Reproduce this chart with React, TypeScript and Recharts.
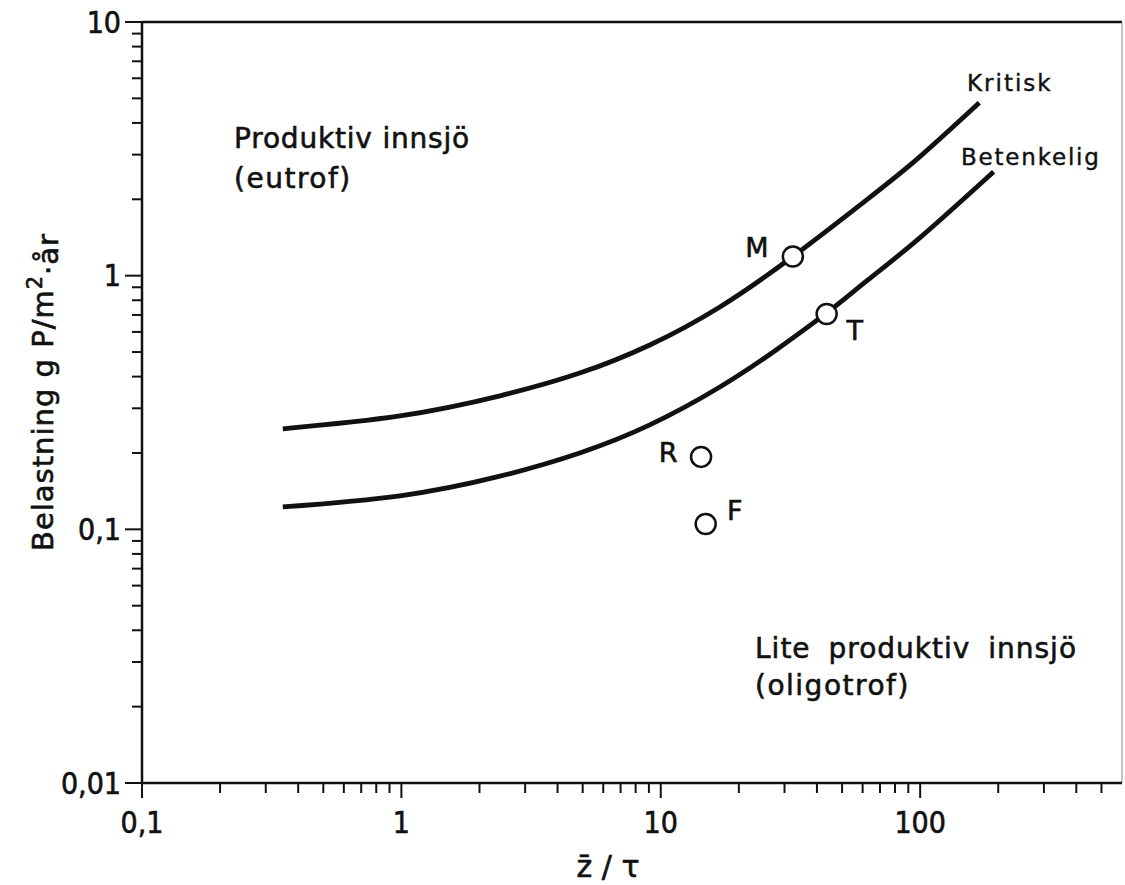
import { ComposedChart, Line, Scatter, XAxis, YAxis, ReferenceLine } from "recharts";

// curves (z/tau, load g P per m2 and year)
const kritiskX = [0.349, 0.987, 2.4, 4.87, 9.07, 16.9, 32.3, 62.2, 99.6, 169];
const kritiskY = [0.249, 0.28, 0.336, 0.413, 0.533, 0.753, 1.19, 1.99, 2.94, 4.8];
const betenkeligX = [0.349, 0.987, 2.4, 4.87, 9.07, 16.9, 27.5, 43.6, 62.2, 99.6, 192];
const betenkeligY = [0.1225, 0.1355, 0.162, 0.2, 0.258, 0.364, 0.505, 0.713, 0.953, 1.41, 2.57];

// lakes
const lakeNames = ["M", "T", "R", "F"];
const lakeX = [32.3, 43.6, 14.3, 14.9];
const lakeY = [1.19, 0.706, 0.193, 0.105];

const xTicks = [
  0.1, 0.2, 0.3, 0.4, 0.5, 0.6, 0.7, 0.8, 0.9,
  1, 2, 3, 4, 5, 6, 7, 8, 9,
  10, 20, 30, 40, 50, 60, 70, 80, 90,
  100, 200, 300, 400, 500,
];
const xMajor = [0.1, 1, 10, 100];
const xMajorLabels = ["0,1", "1", "10", "100"];

const yTicks = [
  0.01, 0.02, 0.03, 0.04, 0.05, 0.06, 0.07, 0.08, 0.09,
  0.1, 0.2, 0.3, 0.4, 0.5, 0.6, 0.7, 0.8, 0.9,
  1, 2, 3, 4, 5, 6, 7, 8, 9,
  10,
];
const yMajor = [0.01, 0.1, 1, 10];
const yMajorLabels = ["0,01", "0,1", "1", "10"];

const kritisk = kritiskX.map((x, i) => ({ x, y: kritiskY[i] }));
const betenkelig = betenkeligX.map((x, i) => ({ x, y: betenkeligY[i] }));
const lakes = lakeNames.map((name, i) => ({ name, x: lakeX[i], y: lakeY[i] }));

const NARROW = "'DejaVu Sans Condensed', 'Liberation Sans Narrow', 'DejaVu Sans', sans-serif";
const FONT = "'DejaVu Sans', 'Noto Sans', sans-serif";
const INK = "#111";

// heavier lettering like the printed original
const ink = { fill: INK, stroke: INK, strokeWidth: 0.6 };

// where each lake letter sits relative to its circle
const labelOffset: Record<string, [number, number]> = {
  M: [-36, -9],
  T: [28, 16],
  R: [-33, -5],
  F: [29, -14],
};

function XTick(props: any) {
  const { x, y, payload } = props;
  const idx = xMajor.indexOf(payload.value);
  const major = idx >= 0;
  return (
    <g>
      <line x1={x} y1={y} x2={x} y2={y + (major ? 15 : 10)} stroke={INK} strokeWidth={2} />
      {major && (
        <text x={x} y={y + 50} textAnchor="middle" fontSize={30} fontFamily={NARROW} {...ink}>
          {xMajorLabels[idx]}
        </text>
      )}
    </g>
  );
}

function YTick(props: any) {
  const { x, y, payload } = props;
  const idx = yMajor.indexOf(payload.value);
  const major = idx >= 0;
  return (
    <g>
      <line x1={x - (major ? 17 : 10)} y1={y} x2={x} y2={y} stroke={INK} strokeWidth={2} />
      {major && (
        <text x={x - 21} y={y} dy="0.36em" textAnchor="end" fontSize={30} fontFamily={NARROW} {...ink}>
          {yMajorLabels[idx]}
        </text>
      )}
    </g>
  );
}

function LakeDot(props: any) {
  const { cx, cy, payload } = props;
  const [dx, dy] = labelOffset[payload.name] || [20, 0];
  return (
    <g>
      <circle cx={cx} cy={cy} r={10} fill="#fff" stroke={INK} strokeWidth={2.5} />
      <text
        x={cx + dx}
        y={cy + dy}
        dy="0.36em"
        textAnchor="middle"
        fontSize={27}
        fontFamily={FONT}
        {...ink}
      >
        {payload.name}
      </text>
    </g>
  );
}

export default function App() {
  return (
    <div style={{ position: "absolute", left: 0, top: 0, background: "#fff" }}>
      <ComposedChart
        width={1125}
        height={885}
        margin={{ top: 22, right: 3, bottom: 42, left: 82 }}
      >
        <XAxis
          dataKey="x"
          type="number"
          scale="log"
          domain={[0.1, 600]}
          allowDataOverflow
          ticks={xTicks}
          interval={0}
          tickSize={0}
          tickMargin={0}
          tickLine={false}
          tick={<XTick />}
          height={60}
          axisLine={{ stroke: INK, strokeWidth: 2.5 }}
        />
        <YAxis
          dataKey="y"
          type="number"
          scale="log"
          domain={[0.01, 10]}
          allowDataOverflow
          ticks={yTicks}
          interval={0}
          tickSize={0}
          tickMargin={0}
          tickLine={false}
          tick={<YTick />}
          width={60}
          axisLine={{ stroke: INK, strokeWidth: 2.5 }}
        />
        <ReferenceLine y={10} stroke={INK} strokeWidth={2.5} />
        <ReferenceLine x={600} stroke="#888" strokeWidth={1} />
        <Line
          data={kritisk}
          dataKey="y"
          type="natural"
          stroke={INK}
          strokeWidth={4.8}
          dot={false}
          isAnimationActive={false}
        />
        <Line
          data={betenkelig}
          dataKey="y"
          type="natural"
          stroke={INK}
          strokeWidth={4.8}
          dot={false}
          isAnimationActive={false}
        />
        <Scatter data={lakes} dataKey="y" shape={<LakeDot />} isAnimationActive={false} />

        <text x={967} y={91} fontSize={23} fontFamily={FONT} {...ink} strokeWidth={0.4} letterSpacing={2}>
          Kritisk
        </text>
        <text x={961} y={165} fontSize={23} fontFamily={FONT} {...ink} strokeWidth={0.4} letterSpacing={1.8}>
          Betenkelig
        </text>
        <text x={234} y={148} fontSize={28} fontFamily={FONT} {...ink} letterSpacing={0.8}>
          Produktiv innsjö
        </text>
        <text x={234} y={188} fontSize={28} fontFamily={FONT} {...ink} letterSpacing={1.5}>
          (eutrof)
        </text>
        <text x={755} y={658} fontSize={28} fontFamily={FONT} {...ink} letterSpacing={1} wordSpacing={8}>
          Lite produktiv innsjö
        </text>
        <text x={755} y={695} fontSize={28} fontFamily={FONT} {...ink} letterSpacing={1.5}>
          (oligotrof)
        </text>
        <text
          x={43}
          y={392}
          transform="rotate(-90, 43, 392)"
          textAnchor="middle"
          dy="0.36em"
          fontSize={29}
          fontFamily={FONT}
          {...ink}
          letterSpacing={1}
        >
          Belastning g P/m
          <tspan dy="-0.55em" fontSize={21}>2</tspan>
          <tspan dy="0.55em">·år</tspan>
        </text>
        <text x={608} y={877} textAnchor="middle" fontSize={30} fontFamily={FONT} {...ink}>
          z̄ / τ
        </text>
      </ComposedChart>
    </div>
  );
}
